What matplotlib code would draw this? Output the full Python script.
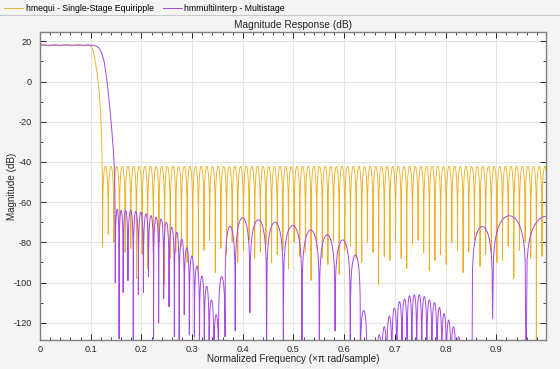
import numpy as np
import matplotlib
matplotlib.use('Agg')
import matplotlib.pyplot as plt
from matplotlib.lines import Line2D
from matplotlib.ticker import MultipleLocator

plt.rcParams['font.family'] = ['Liberation Sans', 'DejaVu Sans']
plt.rcParams['axes.unicode_minus'] = False

# ---- single-stage equiripple (orange) ----
equi_pass_f = [0.0, 0.006, 0.017, 0.029, 0.040, 0.052, 0.063, 0.075, 0.086, 0.095,
               0.100, 0.103, 0.106, 0.109, 0.112, 0.115, 0.117, 0.119, 0.1205, 0.122, 0.1230]
equi_pass_db = [18.3, 18.5, 17.7, 18.5, 17.7, 18.5, 17.7, 18.5, 17.7, 18.4,
                17.8, 16.5, 14.0, 10.0, 5.0, -1.0, -6.0, -14.0, -21.0, -32.0, -50.0]
equi_nulls = [0.1235, 0.1346, 0.1457, 0.1568, 0.1679, 0.1791, 0.1902, 0.2013, 0.2124, 0.2235,
              0.2346, 0.2457, 0.2568, 0.2679, 0.2790, 0.2902, 0.3013, 0.3124, 0.3235, 0.3346,
              0.3457, 0.3568, 0.3679, 0.3790, 0.3901, 0.4013, 0.4124, 0.4235, 0.4346, 0.4457,
              0.4568, 0.4679, 0.4790, 0.4901, 0.5012, 0.5124, 0.5235, 0.5346, 0.5457, 0.5568,
              0.5679, 0.5790, 0.5901, 0.6012, 0.6123, 0.6235, 0.6346, 0.6457, 0.6568, 0.6679,
              0.6790, 0.6901, 0.7012, 0.7123, 0.7234, 0.7346, 0.7457, 0.7568, 0.7679, 0.7790,
              0.7901, 0.8012, 0.8123, 0.8234, 0.8345, 0.8457, 0.8568, 0.8679, 0.8790, 0.8901,
              0.9012, 0.9123, 0.9234, 0.9345, 0.9456, 0.9568, 0.9679, 0.9790, 0.9901, 1.0012]
equi_null_db = [-82, -76, -80, -79, -85, -83, -98, -86, -93, -84,
                -80, -101, -88, -85, -82, -90, -87, -97, -84, -79,
                -95, -83, -86, -80, -90, -84, -79, -88, -85, -81,
                -90, -86, -84, -93, -80, -87, -85, -99, -83, -88,
                -91, -79, -96, -84, -82, -88, -90, -80, -85, -101,
                -87, -89, -80, -88, -93, -81, -79, -85, -94, -89,
                -86, -91, -80, -84, -95, -85, -79, -92, -86, -85,
                -90, -89, -82, -98, -84, -80, -88, -140, -87, -84]
equi_stop_peak_db = -42.2

# ---- multistage interpolator (purple) ----
multi_pass_f = [0.0, 0.100, 0.105, 0.112, 0.117, 0.122, 0.126, 0.129, 0.132, 0.135,
                0.138, 0.141, 0.144, 0.1465, 0.1478]
multi_pass_db = [18.1, 18.1, 18.0, 17.5, 16.5, 14.0, 10.5, 6.0, 0.5, -6.0,
                 -14.0, -22.0, -32.0, -42.0, -55.0]
multi_nulls = [0.1485, 0.156, 0.164, 0.1735, 0.184, 0.194, 0.204, 0.214, 0.224, 0.234,
               0.244, 0.2545, 0.265, 0.2745, 0.2845, 0.2945, 0.3045, 0.3145, 0.324, 0.3335,
               0.343, 0.352, 0.365, 0.385, 0.414, 0.447, 0.480, 0.5167, 0.551, 0.582,
               0.612, 0.632, 0.645, 0.664, 0.674, 0.684, 0.694, 0.704, 0.714, 0.724,
               0.7335, 0.743, 0.753, 0.763, 0.773, 0.783, 0.7925, 0.8015, 0.8105, 0.8205,
               0.831, 0.852, 0.8927, 0.9586, 1.0414]
multi_null_db = [-100, -128, -105, -99, -140, -106, -105, -97, -128, -120,
                 -108, -112, -127, -140, -116, -126, -127, -140, -132, -140,
                 -140, -140, -127, -124, -115, -140, -128, -140, -140, -124,
                 -140, -140, -150, -150, -150, -150, -150, -150, -150, -150,
                 -150, -150, -150, -150, -150, -150, -150, -150, -150, -150,
                 -150, -150, -118, -150, -150]
multi_peak_db = [-63.6, -64.1, -64.1, -64.1, -64.6, -65.0, -65.8, -66.7, -67.5, -68.4,
                 -70.0, -72.5, -75.1, -78.4, -82.6, -86.8, -91.8, -96.9, -101.9, -108.7,
                 -116.0, -97.0, -72.0, -67.8, -68.8, -70.0, -71.7, -73.9, -76.3, -78.8,
                 -86.3, -113.9, -160.0, -126.0, -122.0, -116.7, -112.8, -109.5, -108.2, -106.6,
                 -106.1, -106.1, -107.0, -108.7, -110.0, -112.5, -115.4, -118.7, -122.0, -127.0,
                 -160.0, -72.1, -66.8, -67.0]


def lobes(nulls, null_db, peak_db, pts=40):
    # arch-shaped lobes between successive nulls, in dB
    ff, dd = [], []
    for i in range(len(nulls) - 1):
        t = np.linspace(0, 1, pts)
        pk = peak_db[i] if np.ndim(peak_db) else peak_db
        a = 10 ** ((min(null_db[i], pk) - pk) / 20)
        b = 10 ** ((min(null_db[i + 1], pk) - pk) / 20)
        fl = a * (1 - t) + b * t
        mag = np.sin(np.pi * t) * (1 - fl) + fl
        ff.append(nulls[i] + t * (nulls[i + 1] - nulls[i]))
        dd.append(pk + 20 * np.log10(mag))
    return np.concatenate(ff), np.concatenate(dd)


ef, ed = lobes(equi_nulls, equi_null_db, equi_stop_peak_db)
equi_f = np.concatenate([equi_pass_f, ef])
equi_db = np.concatenate([equi_pass_db, ed])
mf, md = lobes(multi_nulls, multi_null_db, multi_peak_db)
multi_f = np.concatenate([multi_pass_f, mf])
multi_db = np.concatenate([multi_pass_db, md])

fig = plt.figure(figsize=(5.6, 3.69), dpi=100, facecolor='#f4f4f4')
ax = fig.add_axes([0.0714, 0.0797, 0.9036, 0.8328])
ax.set_facecolor('white')

l1, = ax.plot(equi_f, equi_db, color='#EDB120', lw=0.65,
              label='hmequi - Single-Stage Equiripple')
l2, = ax.plot(multi_f, multi_db, color='#A447E6', lw=0.7,
              label='hmmultiInterp - Multistage')

ax.set_xlim(0, 0.998)
ax.set_ylim(-128.4, 24.5)
ax.set_xticks([0, 0.1, 0.2, 0.3, 0.4, 0.5, 0.6, 0.7, 0.8, 0.9])
ax.set_xticklabels(['0', '0.1', '0.2', '0.3', '0.4', '0.5', '0.6', '0.7', '0.8', '0.9'])
ax.set_yticks([-120, -100, -80, -60, -40, -20, 0, 20])
ax.xaxis.set_minor_locator(MultipleLocator(0.02))
ax.yaxis.set_minor_locator(MultipleLocator(10))
ax.tick_params(which='both', direction='in', top=True, right=True,
               labelsize=6.6, colors='#262626')
ax.tick_params(which='major', length=4, width=0.7)
ax.tick_params(axis='y', which='major', pad=6)
ax.tick_params(axis='x', which='major', pad=4)
ax.tick_params(which='minor', length=2, width=0.6)
ax.grid(True, which='major', color='#e3e3e3', lw=0.8)
ax.set_axisbelow(True)
for s in ax.spines.values():
    s.set_color('#808080')
    s.set_linewidth(1.0)

ax.set_title('Magnitude Response (dB)', fontsize=7.3, color='#262626', pad=3)
ax.set_xlabel('Normalized Frequency (\u00d7\u03c0 rad/sample)', fontsize=7.1, color='#262626', labelpad=0)
ax.set_ylabel('Magnitude (dB)', fontsize=7.1, color='#262626')
ax.yaxis.set_label_coords(-0.045, 0.5)

fig.legend(handles=[l1, l2], loc='upper left', bbox_to_anchor=(0.0, 1.0), ncol=2,
           frameon=False, fontsize=6.3, handlelength=2.2, handletextpad=0.3,
           columnspacing=1.0, borderaxespad=0.15, borderpad=0.3)
fig.add_artist(Line2D([0, 1], [1 - 15 / 369, 1 - 15 / 369], color='#c8c8c8', lw=0.8))

fig.savefig('out.png', dpi=100, facecolor=fig.get_facecolor())
